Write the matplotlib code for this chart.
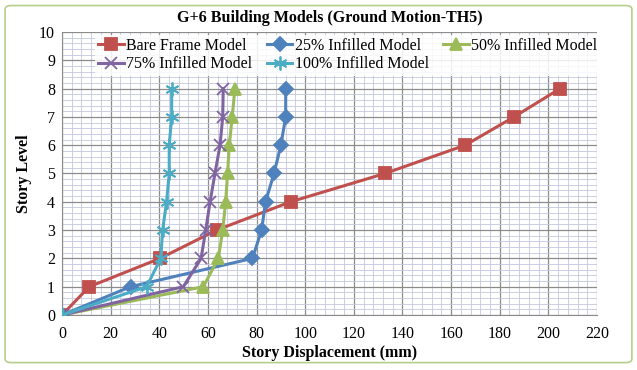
import numpy as np
import matplotlib
matplotlib.use("Agg")
import matplotlib.pyplot as plt
from matplotlib.patches import FancyBboxPatch
from matplotlib.ticker import MultipleLocator

levels = [0, 1, 2, 3, 4, 5, 6, 7, 8]
bare_frame = [0, 11.2, 40.3, 63.6, 94.0, 132.8, 165.8, 185.9, 204.8]
infill_25 = [0, 28.2, 78.3, 82.1, 83.7, 87.2, 90.0, 92.0, 92.0]
infill_50 = [0, 58.1, 64.3, 66.1, 67.3, 68.1, 68.8, 70.0, 71.1]
infill_75 = [0, 49.9, 57.2, 59.1, 60.9, 62.9, 65.0, 66.1, 66.3]
infill_100 = [0, 34.8, 40.6, 41.4, 43.0, 44.1, 44.1, 45.1, 45.1]

plt.rcParams['font.family'] = ['Liberation Serif', 'DejaVu Serif']

fig = plt.figure(figsize=(6.37, 3.70), dpi=100)
# outer light green border
fig.patches.append(FancyBboxPatch((0.008, 0.02), 0.984, 0.965, boxstyle="round,pad=0,rounding_size=0.01",
                                  transform=fig.transFigure, fill=False, edgecolor="#B5CF8A", linewidth=1.2))
ax = fig.add_axes([0.0973, 0.1486, 0.8399, 0.765])

series = [
    ("Bare Frame Model", bare_frame, "#C0504D", "s", 9),
    ("25% Infilled Model", infill_25, "#4F81BD", "D", 7),
    ("50% Infilled Model", infill_50, "#9BBB59", "^", 8),
    ("75% Infilled Model", infill_75, "#8064A2", "x", 9),
    ("100% Infilled Model", infill_100, "#4BACC6", (6, 2, 0), 10),
]
lines = []
for name, vals, col, mk, ms in series:
    ln, = ax.plot(vals, levels, color=col, lw=2.2, marker=mk, markersize=ms,
                  markeredgewidth=1.3, markerfacecolor=col, markeredgecolor=col, label=name, zorder=3)
    lines.append(ln)

ax.set_xlim(0, 220)
ax.set_ylim(0, 10)
ax.xaxis.set_major_locator(MultipleLocator(20))
ax.xaxis.set_minor_locator(MultipleLocator(4))
ax.yaxis.set_major_locator(MultipleLocator(1))
ax.yaxis.set_minor_locator(MultipleLocator(0.2))
ax.grid(which="major", color="#8C8C8C", lw=0.9)
ax.grid(which="minor", color="#C4C8DE", lw=0.6)
ax.set_axisbelow(True)
for s in ["top", "right"]:
    ax.spines[s].set_visible(False)
ax.spines["left"].set_color("#8C8C8C")
ax.spines["bottom"].set_color("#8C8C8C")
ax.tick_params(which="both", length=0, labelsize=11.5, pad=5)
ax.tick_params(axis="x", pad=8)

ax.set_title("G+6 Building Models (Ground Motion-TH5)", fontsize=11.5, fontweight="bold", pad=7)
ax.set_xlabel("Story Displacement (mm)", fontsize=11.5, fontweight="bold", labelpad=2)
ax.set_ylabel("Story Level", fontsize=11.5, fontweight="bold", labelpad=5)

# row-wise legend order
order = [0, 3, 1, 4, 2]
leg = ax.legend([lines[i] for i in order], [series[i][0] for i in order],
                loc="upper left", bbox_to_anchor=(0.062, 0.99), ncol=3, fontsize=11.5,
                frameon=True, framealpha=0.85, edgecolor="none", fancybox=False,
                handlelength=1.6, handletextpad=0.15, columnspacing=0.9, borderpad=0.2,
                labelspacing=0.15, borderaxespad=0)

fig.savefig("out.png", dpi=100)
